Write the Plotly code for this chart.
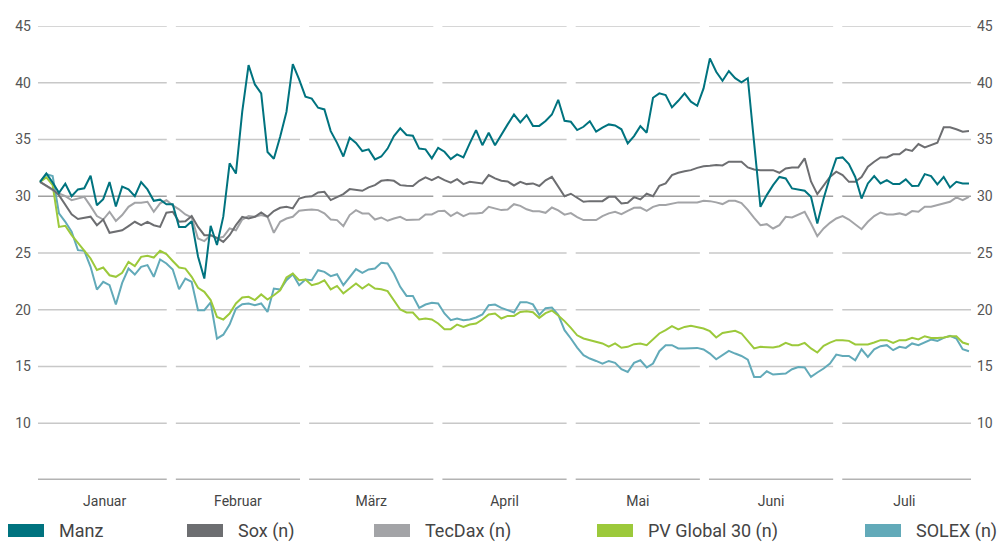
import plotly.graph_objects as go

# ---------------- data ----------------
months = ["Januar", "Februar", "März", "April", "Mai", "Juni", "Juli"]
y_ticks = [10, 15, 20, 25, 30, 35, 40, 45]

manz = [31.27, 32.0, 31.2, 30.3, 31.1, 30.0, 30.6, 30.7, 31.8, 29.2,
        29.75, 31.25, 29.1, 30.85, 30.6, 30.0, 31.25, 30.6, 29.6, 29.7,
        29.3, 29.3, 27.3, 27.3, 27.8, 24.7, 22.75, 27.4, 25.7, 28.2,
        32.9, 32.0, 37.45, 41.55, 39.85, 39.07, 33.9, 33.3, 35.25, 37.45,
        41.65, 40.3, 38.77, 38.6, 37.8, 37.65, 35.74, 34.7, 33.5, 35.15,
        34.7, 33.98, 34.13, 33.25, 33.5, 34.2, 35.3, 35.98, 35.4, 35.33,
        34.2, 34.13, 33.34, 34.27, 33.92, 33.27, 33.69, 33.42, 34.66, 35.83,
        34.5, 35.6, 34.5, 35.48, 36.33, 37.2, 36.5, 37.15, 36.2, 36.2,
        36.63, 37.2, 38.5, 36.65, 36.56, 35.83, 36.12, 36.6, 35.69, 36.04,
        36.33, 36.24, 35.9, 34.66, 35.3, 36.18, 35.6, 38.68, 39.07, 38.92,
        37.83, 38.41, 39.07, 38.33, 37.97, 39.5, 42.15, 40.97, 40.18, 41.03,
        40.4, 40.04, 40.4, 34.7, 29.07, 30.1, 30.98, 31.7, 31.57, 30.69,
        30.6, 30.48, 29.95, 27.6, 29.8, 31.7, 33.34, 33.42, 32.83, 31.7,
        29.8, 31.13, 31.78, 31.13, 31.42, 31.07, 31.07, 31.49, 30.9, 30.92,
        31.95, 31.78, 31.04, 31.7, 30.78, 31.27, 31.13, 31.13]

sox = [31.27, 30.95, 30.6, 30.1, 29.2, 28.4, 28.0, 28.1, 28.2, 27.45,
       27.95, 26.78, 26.87, 27.0, 27.37, 27.75, 27.45, 27.75, 27.45, 27.3,
       28.55, 28.63, 27.75, 27.8, 28.25, 27.3, 26.57, 26.57, 26.34, 25.98,
       26.57, 27.45, 28.19, 28.04, 28.19, 28.57, 28.19, 28.69, 28.98, 29.07,
       28.93, 29.8, 29.95, 30.0, 30.34, 30.39, 29.66, 29.95, 30.19, 30.63,
       30.54, 30.48, 30.78, 30.98, 31.36, 31.42, 31.36, 30.98, 30.92, 30.9,
       31.36, 31.66, 31.42, 31.71, 31.42, 31.19, 31.51, 31.07, 31.27, 31.22,
       31.13, 31.86, 31.57, 31.36, 31.3, 30.95, 31.27, 31.07, 31.13, 30.9,
       31.4, 31.71, 30.8, 30.0, 30.22, 29.85, 29.51, 29.57, 29.6, 29.57,
       29.95, 29.95, 29.37, 29.42, 29.92, 29.72, 30.22, 30.0, 30.92, 31.13,
       31.86, 32.07, 32.2, 32.3, 32.5, 32.65, 32.69, 32.75, 32.72, 33.04,
       33.04, 33.04, 32.54, 32.36, 32.3, 32.3, 32.3, 32.07, 32.45, 32.54,
       32.54, 33.34, 31.3, 30.19, 30.98, 31.7, 32.16, 31.86, 31.27, 31.27,
       31.7, 32.6, 33.04, 33.42, 33.42, 33.69, 33.69, 34.13, 34.0, 34.6,
       34.3, 34.5, 34.71, 36.07, 36.07, 35.9, 35.69, 35.74]

tecdax = [31.27, 30.9, 30.54, 30.25, 30.0, 29.66, 29.8, 29.95, 29.13, 28.25,
          27.95, 28.63, 27.83, 28.34, 29.07, 29.42, 29.42, 29.51, 28.63, 29.37,
          29.66, 29.2, 28.85, 28.4, 28.13, 26.28, 26.05, 26.57, 26.28, 26.43,
          27.16, 27.0, 27.95, 28.25, 28.19, 28.34, 28.19, 26.78, 27.75, 28.04,
          28.19, 28.72, 28.78, 28.84, 28.78, 28.49, 27.95, 27.9, 27.37, 28.34,
          28.78, 28.49, 28.49, 27.95, 28.13, 27.84, 28.04, 28.19, 27.9, 27.9,
          27.95, 28.4, 28.4, 28.69, 28.72, 28.25, 28.57, 28.25, 28.49, 28.49,
          28.54, 29.07, 28.93, 28.78, 28.84, 29.3, 29.15, 28.85, 28.68, 28.68,
          28.54, 29.01, 28.75, 28.38, 28.52, 28.16, 27.9, 27.9, 27.9, 28.25,
          28.49, 28.63, 28.43, 28.72, 28.98, 29.01, 28.72, 29.07, 29.22, 29.22,
          29.37, 29.46, 29.46, 29.46, 29.46, 29.6, 29.57, 29.46, 29.31, 29.6,
          29.6, 29.4, 28.8, 28.1, 27.45, 27.54, 27.16, 27.45, 28.19, 28.13,
          28.4, 28.63, 27.6, 26.49, 27.16, 27.66, 28.04, 28.25, 27.95, 27.52,
          27.1, 27.75, 28.25, 28.57, 28.4, 28.4, 28.49, 28.34, 28.69, 28.63,
          29.07, 29.07, 29.22, 29.37, 29.51, 29.9, 29.66, 29.95]

pv_global = [31.27, 31.66, 30.98, 27.3, 27.4, 26.57, 25.9, 25.25, 24.52, 23.5,
             23.72, 23.04, 22.9, 23.25, 24.22, 23.84, 24.66, 24.75, 24.6, 25.19,
             24.9, 24.3, 23.72, 23.63, 22.9, 21.93, 21.58, 20.85, 19.37, 19.14,
             19.67, 20.55, 21.08, 21.14, 20.85, 21.35, 20.9, 21.28, 21.72, 22.84,
             23.19, 22.6, 22.66, 22.16, 22.31, 22.6, 21.79, 22.1, 21.45, 21.87,
             22.31, 21.87, 22.25, 21.87, 21.81, 21.64, 20.85, 20.02, 19.76, 19.76,
             19.14, 19.23, 19.14, 18.79, 18.29, 18.29, 18.7, 18.49, 18.7, 18.79,
             19.14, 19.58, 19.67, 19.23, 19.46, 19.46, 19.81, 19.87, 19.78, 19.28,
             19.7, 19.93, 19.5, 19.0, 18.4, 17.75, 17.47, 17.32, 17.17, 17.03,
             16.75, 17.03, 16.65, 16.73, 16.97, 17.03, 16.88, 17.38, 17.91, 18.2,
             18.55, 18.26, 18.49, 18.58, 18.49, 18.35, 18.11, 17.56, 17.96, 18.05,
             18.15, 17.91, 17.25, 16.59, 16.73, 16.73, 16.67, 16.79, 17.08, 16.88,
             16.88, 17.08, 16.59, 16.23, 16.82, 17.11, 17.32, 17.32, 17.26, 16.94,
             16.97, 16.94, 17.11, 17.32, 17.32, 17.08, 17.32, 17.32, 17.52, 17.38,
             17.67, 17.52, 17.52, 17.55, 17.67, 17.67, 17.11, 16.94]

solex = [31.27, 31.95, 31.78, 28.49, 27.75, 26.87, 25.25, 25.19, 23.78, 21.78,
         22.46, 22.16, 20.46, 22.37, 23.63, 23.1, 23.78, 23.93, 22.9, 24.43,
         24.08, 23.55, 21.81, 22.75, 22.45, 19.96, 19.96, 20.64, 17.45, 17.8,
         18.7, 20.1, 20.49, 20.55, 20.4, 20.55, 19.81, 21.87, 21.78, 22.6,
         23.13, 22.16, 22.66, 22.6, 23.48, 23.34, 22.96, 23.13, 22.16, 22.9,
         23.58, 23.25, 23.55, 23.64, 24.13, 24.08, 23.19, 22.02, 21.22, 21.22,
         20.17, 20.46, 20.61, 20.55, 19.67, 19.08, 19.23, 19.08, 19.14, 19.32,
         19.58, 20.4, 20.46, 20.17, 19.96, 19.76, 20.67, 20.67, 20.47, 19.55,
         20.14, 20.2, 19.56, 18.2, 17.47, 16.67, 16.0, 15.7, 15.49, 15.26,
         15.49, 15.32, 14.76, 14.52, 15.32, 15.55, 14.91, 15.26, 16.35, 16.88,
         16.88, 16.59, 16.59, 16.59, 16.64, 16.5, 16.14, 15.64, 16.0, 16.37,
         16.14, 15.93, 15.6, 14.08, 14.08, 14.58, 14.29, 14.32, 14.38, 14.76,
         14.96, 14.91, 14.08, 14.47, 14.82, 15.26, 16.05, 15.93, 15.93, 15.55,
         16.52, 15.85, 16.52, 16.79, 16.88, 16.44, 16.73, 16.64, 17.03, 16.88,
         17.11, 17.38, 17.26, 17.52, 17.7, 17.47, 16.52, 16.35]

series_names = ["Manz", "Sox (n)", "TecDax (n)", "PV Global 30 (n)", "SOLEX (n)"]
series_values = [manz, sox, tecdax, pv_global, solex]
series_colors = ["#00737f", "#6d6e71", "#a3a4a7", "#9cc93b", "#62aab9"]

# ---------------- layout constants ----------------
W, H = 1002, 554
ML, MR, MT, MB = 38, 31, 26, 74
PW, PH = W - ML - MR, H - MT - MB

n = len(manz)
days = list(range(n))
X_LO, X_HI = -0.32, n - 1 + 0.32
Y_LO, Y_HI = 5, 45
mw = (X_HI - X_LO) / len(months)
gap = 0.72

tick_font = dict(family="Roboto, Liberation Sans, sans-serif", size=14, color="#555555")

fig = go.Figure()

# draw order: bottom to top
for idx in [4, 3, 2, 1, 0]:
    fig.add_trace(go.Scatter(
        x=days, y=series_values[idx], mode="lines", name=series_names[idx],
        line=dict(color=series_colors[idx], width=2), showlegend=False,
    ))

# dummy trace for right axis
fig.add_trace(go.Scatter(x=[None], y=[None], yaxis="y2", showlegend=False, hoverinfo="skip"))

shapes = []
# segmented grid lines (one segment per month)
for v in [Y_LO] + y_ticks:
    for k in range(len(months)):
        x0 = X_LO + k * mw + (gap if k > 0 else 0)
        x1 = X_LO + (k + 1) * mw - (gap if k < len(months) - 1 else 0)
        if v == Y_LO:
            col, wid = "#b3b3b3", 3
        elif v == 30:
            col, wid = "#a0a0a0", 1.3
        else:
            col, wid = "#c8c8c8", 1.5
        shapes.append(dict(type="line", xref="x", yref="y", x0=x0, x1=x1, y0=v, y1=v,
                           line=dict(color=col, width=wid), layer="below"))


def px_x(px):
    return (px - ML) / PW


def px_y(py):
    return (H - MB - py) / PH


annotations = []
legend_swatch_px = [8, 187, 374, 597, 865]
for name, col, sx in zip(series_names, series_colors, legend_swatch_px):
    shapes.append(dict(type="rect", xref="paper", yref="paper",
                       x0=px_x(sx), x1=px_x(sx + 36), y0=px_y(537), y1=px_y(524),
                       fillcolor=col, line=dict(width=0)))
    annotations.append(dict(text=name, xref="paper", yref="paper", x=px_x(sx + 49), y=px_y(530.5),
                            xanchor="left", yanchor="middle", showarrow=False,
                            font=dict(family="Roboto, sans-serif", size=18, color="#444444")))

fig.update_layout(
    width=W, height=H,
    margin=dict(l=ML, r=MR, t=MT, b=MB, pad=0, autoexpand=False),
    plot_bgcolor="white", paper_bgcolor="white",
    shapes=shapes, annotations=annotations,
    xaxis=dict(range=[X_LO, X_HI], showgrid=False, zeroline=False, showline=False, automargin=False,
               tickvals=[X_LO + (k + 0.5) * mw for k in range(len(months))], ticktext=months,
               ticks="", tickfont=dict(family="Roboto, sans-serif", size=14, color="#444444"),
               ticklabelstandoff=11),
    yaxis=dict(range=[Y_LO, Y_HI], showgrid=False, zeroline=False, showline=False, automargin=False,
               tickvals=y_ticks, ticks="", tickfont=tick_font, ticklabelstandoff=6),
    yaxis2=dict(range=[Y_LO, Y_HI], overlaying="y", side="right", showgrid=False, zeroline=False,
                automargin=False, showline=False, tickvals=y_ticks, ticks="", tickfont=tick_font,
                ticklabelstandoff=5),
    showlegend=False,
)

fig.write_html("out.html", config={"displayModeBar": False},
               post_script="document.body.style.margin='0';document.body.style.overflow='hidden';")
